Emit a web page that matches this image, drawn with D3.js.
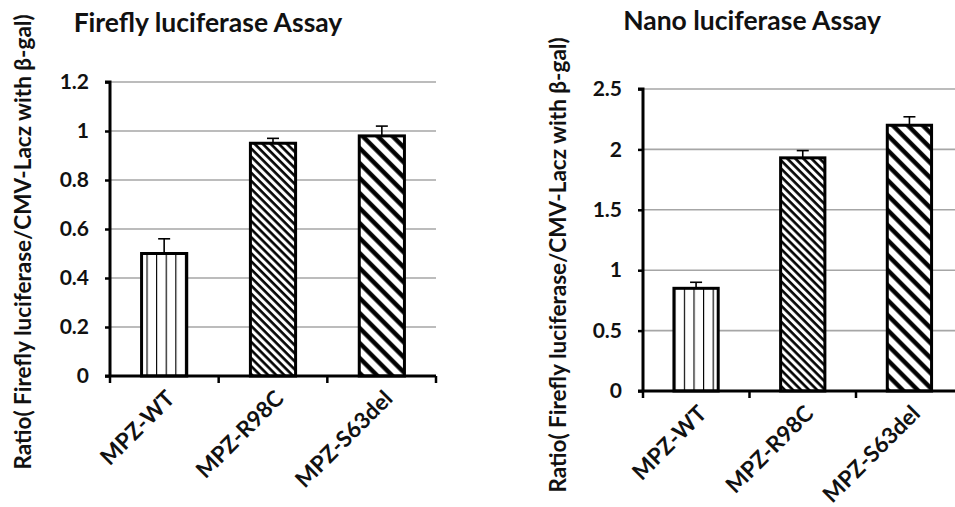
<!DOCTYPE html>
<html>
<head>
<meta charset="utf-8">
<script src="https://cdn.jsdelivr.net/npm/d3@7"></script>
<style>
  body { margin: 0; background: #fff; }
  svg { display: block; }
  svg text { font-family: Lato, "Open Sans", sans-serif; font-weight: bold; fill: #111; }
</style>
</head>
<body>
<div id="chart"></div>
<script>
// categories and values
var categories = ["MPZ-WT", "MPZ-R98C", "MPZ-S63del"];

var fireflyValues = [0.50, 0.95, 0.98];
var fireflyErrors = [0.06, 0.02, 0.04];
var fireflyTicks = [0, 0.2, 0.4, 0.6, 0.8, 1, 1.2];

var nanoValues = [0.85, 1.93, 2.20];
var nanoErrors = [0.05, 0.06, 0.07];
var nanoTicks = [0, 0.5, 1, 1.5, 2, 2.5];

var yLabel = "Ratio( Firefly luciferase/CMV-Lacz with \u03b2-gal)";

var svg = d3.select("#chart").append("svg")
    .attr("width", 955)
    .attr("height", 507);

var defs = svg.append("defs");

// hatch patterns: vertical, dense "\" and wide "\"
function makePatterns(id, x0) {
  var p1 = defs.append("pattern")
      .attr("id", id + "-v")
      .attr("patternUnits", "userSpaceOnUse")
      .attr("x", x0 + 0.5).attr("y", 0)
      .attr("width", 9.6).attr("height", 10);
  p1.append("rect").attr("width", 9.6).attr("height", 10).attr("fill", "#fff");
  p1.append("line").attr("x1", 0).attr("x2", 0).attr("y1", 0).attr("y2", 10)
      .attr("stroke", "#000").attr("stroke-width", 2.3);

  var p2 = defs.append("pattern")
      .attr("id", id + "-d1")
      .attr("patternUnits", "userSpaceOnUse")
      .attr("width", 5.7).attr("height", 10)
      .attr("patternTransform", "rotate(-45)");
  p2.append("rect").attr("width", 5.7).attr("height", 10).attr("fill", "#fff");
  p2.append("line").attr("x1", 1.5).attr("x2", 1.5).attr("y1", 0).attr("y2", 10)
      .attr("stroke", "#000").attr("stroke-width", 2.6);

  var p3 = defs.append("pattern")
      .attr("id", id + "-d2")
      .attr("patternUnits", "userSpaceOnUse")
      .attr("width", 10.6).attr("height", 10)
      .attr("patternTransform", "rotate(-45)");
  p3.append("rect").attr("width", 10.6).attr("height", 10).attr("fill", "#fff");
  p3.append("line").attr("x1", 2.5).attr("x2", 2.5).attr("y1", 0).attr("y2", 10)
      .attr("stroke", "#000").attr("stroke-width", 4.4);

  return ["url(#" + id + "-v)", "url(#" + id + "-d1)", "url(#" + id + "-d2)"];
}

function drawChart(cfg) {
  var g = svg.append("g")
      .attr("transform", "translate(" + cfg.left + "," + cfg.top + ")");

  var x = d3.scaleBand()
      .domain(categories)
      .range([0, cfg.width])
      .paddingInner(0.585)
      .paddingOuter(0.29);

  var y = d3.scaleLinear()
      .domain([0, d3.max(cfg.ticks)])
      .range([cfg.height, 0]);

  // grid
  g.append("g").selectAll("line")
      .data(cfg.ticks.filter(function(d) { return d > 0; }))
      .enter().append("line")
      .attr("x1", 0).attr("x2", cfg.gridWidth)
      .attr("y1", function(d) { return y(d); })
      .attr("y2", function(d) { return y(d); })
      .attr("stroke", "#a6a6a6")
      .attr("stroke-width", 1.6);

  var fills = makePatterns(cfg.id, cfg.left + x(categories[0]));

  var data = categories.map(function(c, i) {
    return { cat: c, value: cfg.values[i], err: cfg.errors[i], fill: fills[i] };
  });

  // error bars (upper only)
  var eb = g.append("g").selectAll("g.err").data(data).enter().append("g");
  eb.append("line")
      .attr("x1", function(d) { return x(d.cat) + x.bandwidth() / 2; })
      .attr("x2", function(d) { return x(d.cat) + x.bandwidth() / 2; })
      .attr("y1", function(d) { return y(d.value); })
      .attr("y2", function(d) { return y(d.value + d.err); })
      .attr("stroke", "#000").attr("stroke-width", 1.6);
  eb.append("line")
      .attr("x1", function(d) { return x(d.cat) + x.bandwidth() / 2 - 6; })
      .attr("x2", function(d) { return x(d.cat) + x.bandwidth() / 2 + 6; })
      .attr("y1", function(d) { return y(d.value + d.err); })
      .attr("y2", function(d) { return y(d.value + d.err); })
      .attr("stroke", "#000").attr("stroke-width", 1.6);

  // bars
  g.append("g").selectAll("rect")
      .data(data)
      .enter().append("rect")
      .attr("x", function(d) { return x(d.cat); })
      .attr("width", x.bandwidth())
      .attr("y", function(d) { return y(d.value); })
      .attr("height", function(d) { return cfg.height - y(d.value); })
      .attr("fill", function(d) { return d.fill; })
      .attr("stroke", "#000")
      .attr("stroke-width", 3);

  // y axis
  var yAxis = d3.axisLeft(y)
      .tickValues(cfg.ticks)
      .tickSize(5)
      .tickPadding(16)
      .tickFormat(function(d) { return String(d); });
  var ya = g.append("g").call(yAxis);
  ya.attr("font-family", null).attr("font-size", null);
  ya.select(".domain").attr("stroke-width", 3).attr("d", "M-5,0H0V" + cfg.height);
  ya.selectAll(".tick line").attr("stroke-width", 2.5);
  ya.selectAll(".tick text").style("font-size", "21px");

  // x axis: ticks at band boundaries
  g.append("line")
      .attr("x1", -5).attr("x2", cfg.gridWidth)
      .attr("y1", cfg.height).attr("y2", cfg.height)
      .attr("stroke", "#000").attr("stroke-width", 3);
  var bounds = d3.range(categories.length + 1);
  g.append("g").selectAll("line")
      .data(bounds)
      .enter().append("line")
      .attr("x1", function(d) { return d * cfg.width / categories.length; })
      .attr("x2", function(d) { return d * cfg.width / categories.length; })
      .attr("y1", cfg.height).attr("y2", cfg.height + 7)
      .attr("stroke", "#000").attr("stroke-width", 2.5);

  g.append("g").selectAll("text")
      .data(categories)
      .enter().append("text")
      .attr("transform", function(d) {
        return "translate(" + (x(d) + x.bandwidth() / 2 + 12) + "," + (cfg.height + 24) + ") rotate(-45)";
      })
      .attr("text-anchor", "end")
      .style("font-size", "22.5px")
      .text(function(d) { return d; });

  // title
  g.append("text")
      .attr("x", cfg.titleX)
      .attr("y", cfg.titleY)
      .attr("text-anchor", "middle")
      .style("font-size", "26.5px")
      .text(cfg.title);

  // y label
  g.append("text")
      .attr("transform", "translate(" + cfg.labelX + "," + cfg.labelY + ") rotate(-90)")
      .attr("text-anchor", "middle")
      .style("font-size", "22.5px")
      .text(yLabel);
}

drawChart({
  id: "ff", left: 110, top: 82, width: 326, height: 294, gridWidth: 326,
  values: fireflyValues, errors: fireflyErrors, ticks: fireflyTicks,
  title: "Firefly luciferase Assay", titleX: 98, titleY: -50,
  labelX: -79, labelY: 160
});

drawChart({
  id: "nl", left: 643, top: 89, width: 319.5, height: 302, gridWidth: 320,
  values: nanoValues, errors: nanoErrors, ticks: nanoTicks,
  title: "Nano luciferase Assay", titleX: 109, titleY: -59,
  labelX: -77, labelY: 176
});
</script>
</body>
</html>
